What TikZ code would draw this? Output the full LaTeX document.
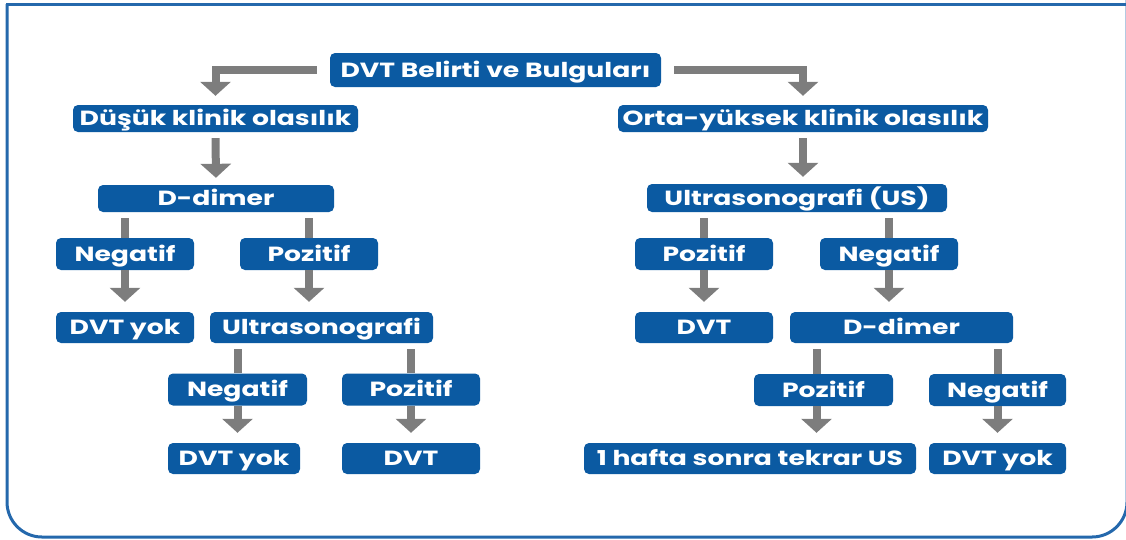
\documentclass[tikz,border=0pt]{standalone}
\usepackage{fontspec}
\setmainfont{Poppins}[FakeStretch=1.3]
\usetikzlibrary{arrows.meta}
\definecolor{boxblue}{HTML}{0B5AA2}
\definecolor{arrgrey}{HTML}{7D7D7D}
\definecolor{frameblue}{HTML}{2468AC}
\begin{document}
\begin{tikzpicture}[x=1pt,y=-1pt,
  box/.style={fill=boxblue, rounded corners=5pt, text=white,
    font=\bfseries\fontsize{20.5}{20.5}\selectfont, inner sep=0pt, anchor=center,
    text height=14pt, text depth=0pt},
  stem/.style={draw=arrgrey, line width=8pt},
  arr/.style={draw=arrgrey, line width=8pt, -{Triangle[width=30pt,length=14pt]}},
]
\useasboundingbox (0,0) rectangle (1126,539);
% frame
\draw[frameblue, line width=3pt, line cap=rect] (7,4) -- (1140,4);
\draw[frameblue, line width=3pt, rounded corners=35pt] (7,4) -- (7,537) -- (1127,537) -- (1127,-10);

% nodes
\node[box, minimum width=331, minimum height=34] (top) at (495.5,70) {DVT Belirti ve Bulguları};
\node[box, minimum width=285, minimum height=27] (dusuk) at (215.5,118.5) {Düşük klinik olasılık};
\node[box, minimum width=370, minimum height=27] (orta) at (803,118.5) {Orta-yüksek klinik olasılık};

\node[box, minimum width=236, minimum height=27] (ddL) at (216,198.5) {D-dimer};
\node[box, minimum width=300, minimum height=28] (usR) at (797,198) {Ultrasonografi (US)};

\node[box, minimum width=138, minimum height=32] (negL) at (125,254) {Negatif};
\node[box, minimum width=138, minimum height=32] (posL) at (309,254) {Pozitif};
\node[box, minimum width=138, minimum height=32] (posR) at (704,254) {Pozitif};
\node[box, minimum width=138, minimum height=32] (negR) at (889,254) {Negatif};

\node[box, minimum width=138, minimum height=31] (dvtyokL) at (125,327.5) {DVT yok};
\node[box, minimum width=223, minimum height=31] (usL) at (321.5,327.5) {Ultrasonografi};
\node[box, minimum width=138, minimum height=31] (dvtR) at (704,327.5) {DVT};
\node[box, minimum width=223, minimum height=31] (ddR) at (901.5,327.5) {D-dimer};

\node[box, minimum width=139, minimum height=32] (negL2) at (237.5,389.5) {Negatif};
\node[box, minimum width=138, minimum height=32] (posL2) at (411,389.5) {Pozitif};
\node[box, minimum width=139, minimum height=32] (posR2) at (823.5,390) {Pozitif};
\node[box, minimum width=137, minimum height=32] (negR2) at (997.5,390) {Negatif};

\node[box, minimum width=132, minimum height=31] (dvtyokL3) at (234,458.5) {DVT yok};
\node[box, minimum width=138, minimum height=31] (dvtL3) at (411,458.5) {DVT};
\node[box, minimum width=332, minimum height=31] (hafta) at (750,458.5) {1 hafta sonra tekrar US};
\node[box, minimum width=137, minimum height=31] (dvtyokR3) at (997.5,458.5) {DVT yok};

% connectors
\draw[arr, shorten <=13pt, shorten >=9pt] (top.west) -- (top.west -| dusuk.north) -- (dusuk.north);
\draw[arr, shorten <=13pt, shorten >=9pt] (top.east) -- (top.east -| orta.north) -- (orta.north);
\draw[arr, shorten <=6pt, shorten >=7pt] (dusuk.south) -- (ddL.north);
\draw[arr, shorten <=6pt, shorten >=7pt] (orta.south) -- (orta.south |- usR.north);

\draw[stem, shorten <=6pt] (ddL.south -| negL.north) -- (negL.north);
\draw[stem, shorten <=6pt] (ddL.south -| posL.north) -- (posL.north);
\draw[stem, shorten <=6pt] (usR.south -| posR.north) -- (posR.north);
\draw[stem, shorten <=6pt] (usR.south -| negR.north) -- (negR.north);

\draw[arr, shorten >=10pt] (negL.south) -- (negL.south |- dvtyokL.north);
\draw[arr, shorten >=10pt] (posL.south) -- (posL.south |- usL.north);
\draw[arr, shorten >=10pt] (posR.south) -- (posR.south |- dvtR.north);
\draw[arr, shorten >=10pt] (negR.south) -- (negR.south |- ddR.north);

\draw[stem, shorten <=6pt] (usL.south -| negL2.north) -- (negL2.north);
\draw[stem, shorten <=6pt] (usL.south -| posL2.north) -- (posL2.north);
\draw[stem, shorten <=6pt] ([xshift=-7pt]ddR.south -| posR2.north) -- ([xshift=-7pt]posR2.north);
\draw[stem, shorten <=6pt] (ddR.south -| negR2.north) -- (negR2.north);

\draw[arr, shorten >=10pt] (negL2.south) -- (negL2.south |- dvtyokL3.north);
\draw[arr, shorten >=10pt] (posL2.south) -- (posL2.south |- dvtL3.north);
\draw[arr, shorten >=10pt] ([xshift=-7pt]posR2.south) -- ([xshift=-7pt]posR2.south |- hafta.north);
\draw[arr, shorten >=10pt] (negR2.south) -- (negR2.south |- dvtyokR3.north);
\end{tikzpicture}
\end{document}
